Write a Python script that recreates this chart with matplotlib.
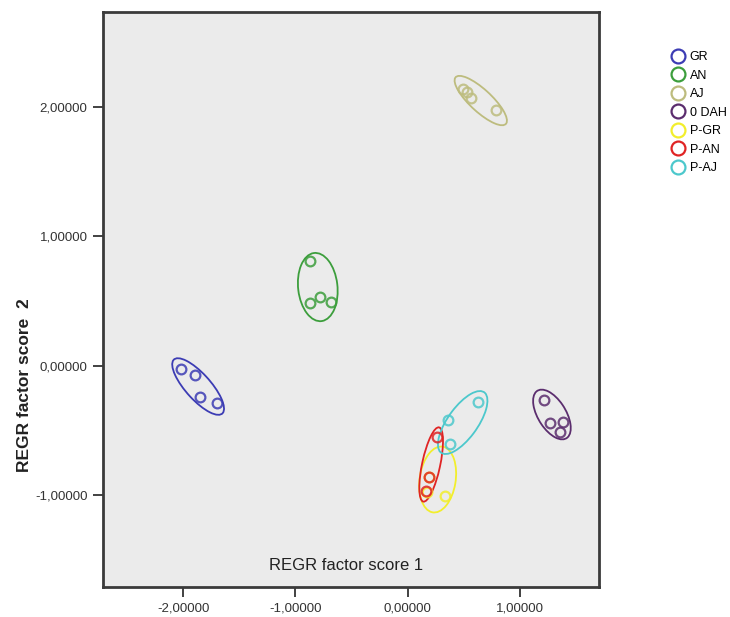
import matplotlib
matplotlib.use("Agg")
import matplotlib.pyplot as plt
from matplotlib.patches import Ellipse
from matplotlib.lines import Line2D
from matplotlib.ticker import FuncFormatter

plt.rcParams["font.family"] = ["Liberation Sans", "DejaVu Sans"]

# --- data ---
gruppen = ["GR", "AN", "AJ", "0 DAH", "P-GR", "P-AN", "P-AJ"]
farben = ["#3c3cb4", "#3c9e3c", "#bdbc7e", "#5b2d6e", "#f2ee2c", "#e02424", "#4cc8cc"]

score1 = [
    [-2.02, -1.89, -1.85, -1.70],
    [-0.865, -0.866, -0.783, -0.68],
    [0.497, 0.527, 0.569, 0.79],
    [1.217, 1.27, 1.381, 1.36],
    [0.17, 0.33, 0.19],
    [0.265, 0.19, 0.167],
    [0.628, 0.363, 0.375],
]
score2 = [
    [-0.025, -0.07, -0.245, -0.29],
    [0.805, 0.484, 0.527, 0.49],
    [2.137, 2.11, 2.067, 1.97],
    [-0.268, -0.443, -0.438, -0.512],
    [-0.973, -1.01, -0.86],
    [-0.551, -0.86, -0.965],
    [-0.28, -0.417, -0.605],
]

# ellipses: center x, center y, width, height, angle
ell_x = [-1.866, -0.80, 0.652, 1.286, 0.268, 0.21, 0.491]
ell_y = [-0.162, 0.606, 2.046, -0.378, -0.88, -0.764, -0.44]
ell_w = [0.60, 0.53, 0.575, 0.45, 0.515, 0.59, 0.605]
ell_h = [0.21, 0.35, 0.18, 0.24, 0.32, 0.16, 0.255]
ell_a = [-43, -82, -38, -52, 79, 76, 49]

x_ticks = [-2, -1, 0, 1]
y_ticks = [-1, 0, 1, 2]

fig = plt.figure(figsize=(7.3, 6.17), dpi=100)
ax = fig.add_axes([0.141, 0.0486, 0.6795, 0.932])
ax.set_facecolor("#ebebeb")

for i, g in enumerate(gruppen):
    ax.plot(score1[i], score2[i], linestyle="none", marker="o", markersize=7,
            markerfacecolor="none", markeredgecolor=farben[i], markeredgewidth=1.6,
            alpha=0.85, zorder=3)
    ax.add_patch(Ellipse((ell_x[i], ell_y[i]), ell_w[i], ell_h[i], angle=ell_a[i],
                         fill=False, edgecolor=farben[i], linewidth=1.3, zorder=2))

ax.set_xlim(-2.714, 1.705)
ax.set_ylim(-1.71, 2.73)
ax.set_xticks(x_ticks)
ax.set_yticks(y_ticks)
fmt = FuncFormatter(lambda v, p: f"{v:.5f}".replace(".", ","))
ax.xaxis.set_major_formatter(fmt)
ax.yaxis.set_major_formatter(fmt)
ax.tick_params(direction="out", length=7, width=1.3, pad=4, labelsize=9.5,
               colors="#333333")
for s in ax.spines.values():
    s.set_linewidth(2)
    s.set_color("#3a3a3a")

ax.text(0.49, 0.025, "REGR factor score 1", transform=ax.transAxes,
        ha="center", va="bottom", fontsize=12, color="#222222")
fig.text(0.034, 0.375, "REGR factor score  2", rotation=90, ha="center",
         va="center", fontsize=12.5, fontweight="bold", color="#222222")

handles = [Line2D([], [], linestyle="none", marker="o", markersize=10,
                  markerfacecolor="none", markeredgecolor=farben[i],
                  markeredgewidth=1.6) for i in range(len(gruppen))]
fig.legend(handles, gruppen, loc="upper left", bbox_to_anchor=(0.914, 0.925),
           frameon=False, fontsize=9, handletextpad=0.4, handlelength=1.0,
           labelspacing=0.52, borderaxespad=0)

fig.savefig("out.png", dpi=100)
